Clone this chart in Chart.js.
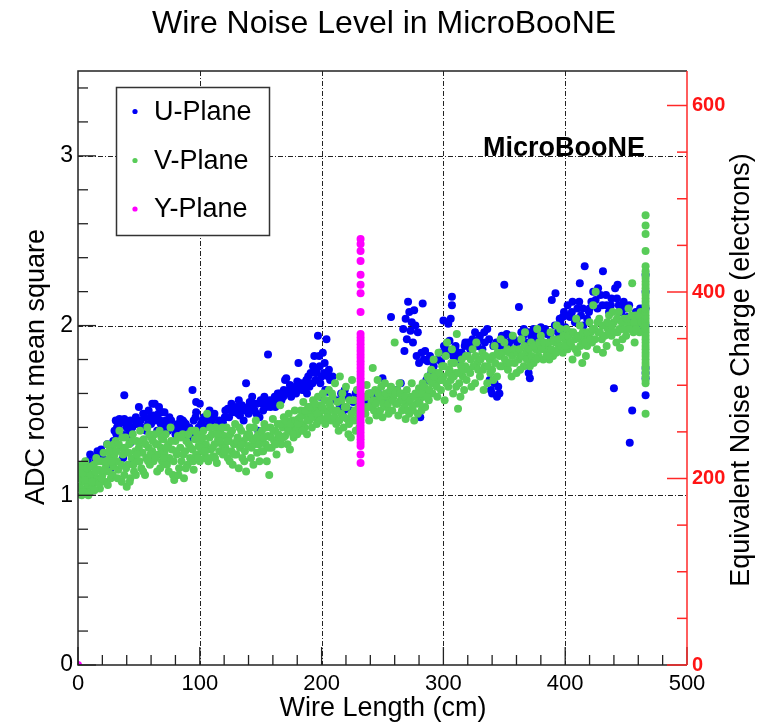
<!DOCTYPE html>
<html><head><meta charset="utf-8">
<script src="https://cdn.jsdelivr.net/npm/chart.js@4.4.1/dist/chart.umd.min.js"></script>
<style>html,body{margin:0;padding:0;background:#fff}#wrap{width:769px;height:725px;position:relative}</style>
</head><body><div id="wrap"><canvas id="c" width="769" height="725"></canvas></div>
<script>
// ---------- DATA ----------
const chartTitle = "Wire Noise Level in MicroBooNE";
const xTitle = "Wire Length (cm)";
const yTitle = "ADC root mean square";
const y2Title = "Equivalent Noise Charge (electrons)";
const seriesNames = ["U-Plane", "V-Plane", "Y-Plane"];
const xTicks = [0, 100, 200, 300, 400, 500];
const yTicks = [0, 1, 2, 3];
const y2Ticks = [0, 200, 400, 600];

// U-Plane (blue): [wire length cm, ADC rms]
const uPlane = [
[2,1.1],[4,1.16],[6,1.13],[8,1.2],[10,1.24],[12,1.18],[14,1.22],[16,1.26],[18,1.22],[19,1.27],[20,1.24],[22,1.2],[24,1.3],[27,1.16],[27,1.18],[29,1.32],
[30,1.38],[31,1.44],[32,1.4],[33,1.42],[34,1.45],[36,1.36],[37,1.22],[38,1.59],[38,1.45],[40,1.4],[42,1.38],[43,1.44],[43,1.31],[46,1.2],[48,1.42],[50,1.52],
[52,1.4],[55,1.46],[56,1.38],[58,1.5],[60,1.42],[61,1.54],[62,1.47],[63,1.54],[64,1.44],[65,1.38],[66,1.48],[68,1.42],[69,1.49],[70,1.4],[71,1.49],[72,1.44],[74,1.38],[75,1.46],[78,1.4],[80,1.36],[82,1.42],[84,1.45],[85,1.41],[86,1.44],[87,1.43],[89,1.38],[90,1.35],[93,1.34],[94,1.62],[95,1.44],[97,1.55],[97,1.49],[99,1.4],
[100,1.54],[101,1.42],[102,1.44],[104,1.4],[106,1.46],[108,1.5],[110,1.44],[112,1.48],[114,1.4],[116,1.44],[118,1.42],[119,1.43],[121,1.5],[123,1.51],[124,1.46],[126,1.54],[128,1.49],[130,1.52],[132,1.56],[133,1.47],[135,1.5],[136,1.44],[138,1.66],[140,1.48],[141,1.55],[143,1.58],[145,1.5],[147,1.54],[148,1.38],[149,1.46],[150,1.56],[152,1.5],[153,1.58],[155,1.54],[156,1.83],[158,1.52],
[160,1.56],[162,1.52],[164,1.6],[166,1.58],[167,1.56],[169,1.62],[170,1.68],[171,1.69],[172,1.6],[174,1.65],[175,1.58],[177,1.62],[179,1.6],[180,1.67],[181,1.78],[182,1.63],[184,1.62],[186,1.66],[188,1.6],[189,1.7],[190,1.64],[191,1.72],[193,1.76],[194,1.82],[195,1.68],[196,1.74],[197,1.94],[198,1.82],[199,1.58],[199,1.66],[200,1.7],[201,1.84],[202,1.72],[203,1.62],[204,1.92],[205,1.61],[206,1.74],[207,1.68],[209,1.7],
[212,1.56],[215,1.52],[216,1.6],[218,1.5],[219,1.62],[222,1.58],[224,1.5],[226,1.55],[228,1.6],[236,1.56],[240,1.6],[243,1.58],[246,1.61],[250,1.69],[252,1.58],[254,1.6],[256,1.56],[257,2.05],[262,1.62],[265,1.66],[267,1.98],[268,1.85],[269,2.04],[270,1.92],[271,2.14],[272,2.08],[273,1.97],[274,2.02],[275,1.9],[276,2.09],[277,2.0],[278,1.82],[279,1.96],[280,1.78],[281,1.46],[282,1.84],[283,2.13],[284,1.8],[285,1.85],[286,1.68],[287,1.79],[289,1.82],[290,1.72],[292,1.76],[293,1.66],[295,1.8],[297,1.84],[298,1.79],
[300,2.03],[302,1.86],[304,2.01],[305,1.91],[306,2.04],[307,2.17],[307,2.12],[308,1.82],[310,1.88],[312,1.8],[315,1.84],[318,1.9],[322,1.86],[324,1.92],[326,1.96],[328,1.88],[330,1.94],[332,1.86],[334,1.9],[336,1.98],[338,1.68],[339,1.62],[340,1.6],[341,1.88],[342,1.66],[344,1.58],[345,1.64],[346,1.6],[347,1.88],[348,1.94],[350,2.24],[352,1.95],[354,1.9],
[356,1.86],[358,1.92],[362,2.11],[364,1.96],[366,1.98],[368,1.9],[370,1.72],[371,1.69],[372,1.94],[374,1.98],[376,1.92],[378,1.96],[380,1.99],[382,1.9],[385,1.95],[389,2.15],[392,2.19],[394,1.96],[396,2.02],[398,2.05],[400,1.99],
[399,2.08],[402,2.12],[404,2.05],[406,2.14],[408,2.02],[410,2.1],[412,2.25],[413,2.06],[415,2.0],[416,2.35],[418,2.04],[420,2.1],[423,2.2],[425,2.15],[427,2.22],[429,2.18],[431,2.32],[434,2.12],[436,2.08],[438,2.16],[440,1.63],[441,2.22],[443,2.24],[444,2.12],[446,2.08],[448,2.14],[450,2.1],[451,2.05],[453,1.31],[455,1.5],[456,2.02],[458,2.08],[460,2.0],[462,2.04],[464,2.1],
[466,1.59],[466,1.69],[466,1.72],[466,1.75],[466,2.0],[466,2.1],[466,2.2],[466,2.3],
[31.5,1.36],[33.5,1.4],[35.5,1.43],[39.5,1.42],[41.5,1.36],[44.5,1.4],[47.5,1.46],[51.5,1.44],[53.5,1.48],[57.5,1.42],[59.5,1.46],[63.5,1.46],[66.5,1.52],[67.5,1.44],[73.5,1.42],[76.5,1.44],[81.5,1.4],[83.5,1.38],[88.5,1.42],[91.5,1.4],[96.5,1.46],
[103.5,1.46],[107.5,1.42],[111.5,1.46],[115.5,1.42],[120.5,1.46],[125.5,1.5],[127.5,1.52],[131.5,1.48],[134.5,1.53],[137.5,1.5],[139.5,1.52],[142.5,1.5],[144.5,1.54],[146.5,1.48],[151.5,1.54],[154.5,1.52],[157.5,1.56],[159.5,1.54],[161.5,1.58],[163.5,1.56],[165.5,1.6],[168.5,1.58],[173.5,1.62],[176.5,1.6],[178.5,1.64],[183.5,1.66],[185.5,1.62],[187.5,1.68],[192.5,1.66],[195.5,1.72],[198.5,1.76],[202.5,1.78],[205.5,1.7],
[300.5,1.88],[303.5,1.84],[309.5,1.86],[313.5,1.84],[317.5,1.88],[320.5,1.9],[325.5,1.88],[329.5,1.92],[333.5,1.96],[337.5,1.92],[343.5,1.9],[349.5,1.92],[355.5,1.94],[360.5,1.9],[365.5,1.94],[369.5,1.96],[375.5,1.94],[379.5,1.92],[383.5,1.98],[387.5,1.94],[391.5,2.0],[395.5,2.04],[397.5,1.98],[401.5,2.06],[405.5,2.08],[409.5,2.04],[411.5,2.14],[414.5,2.1],[419.5,2.08],[421.5,2.14],[426.5,2.1],[430.5,2.12],[433.5,2.18],[437.5,2.12],[442.5,2.16],[447.5,2.1],[452.5,2.12],[457.5,2.06],[461.5,2.1]
];

// V-Plane (green)
const vPlane = [
[1,1.05],[2,1.12],[3,1.0],[4,1.08],[5,1.15],[6,1.03],[7,1.1],[8,1.06],[9,1.13],[10,1.02],[3,1.18],[6,1.2],[9,1.09],
[11,1.12],[12,1.05],[13,1.18],[14,1.08],[15,1.22],[16,1.1],[17,1.15],[18,1.04],[19,1.2],[20,1.12],
[21,1.25],[22,1.08],[23,1.18],[24,1.3],[25,1.14],[26,1.22],[27,1.1],[28,1.28],[29,1.17],[30,1.24],
[31,1.32],[32,1.2],[33,1.15],[34,1.38],[35,1.28],[36,1.08],[37,1.24],[38,1.12],[39,1.34],[40,1.05],[41,1.18],[42,1.3],[43,1.1],[44,1.22],[45,1.36],[46,1.14],[47,1.26],[48,1.32],[49,1.2],[50,1.28],
[51,1.38],[52,1.16],[53,1.25],[54,1.33],[55,1.12],[56,1.22],[57,1.4],[58,1.28],[59,1.18],[60,1.34],
[61,1.26],[62,1.2],[63,1.36],[64,1.3],[65,1.14],[66,1.24],[67,1.38],[68,1.28],[69,1.2],[70,1.33],[71,1.25],[72,1.36],[73,1.18],[74,1.3],[75,1.22],[76,1.4],[77,1.27],[78,1.12],[79,1.09],[80,1.32],
[81,1.24],[82,1.35],[83,1.16],[84,1.28],[85,1.2],[86,1.36],[87,1.1],[88,1.26],[89,1.32],[90,1.18],[91,1.3],[92,1.22],[93,1.38],[94,1.27],[95,1.15],[96,1.33],[97,1.24],[98,1.36],[99,1.29],[100,1.2],
[101,1.32],[102,1.26],[103,1.38],[104,1.22],[105,1.3],[106,1.48],[107,1.2],[108,1.34],[109,1.27],[110,1.36],[111,1.23],[112,1.3],[113,1.4],[114,1.19],[115,1.33],[116,1.26],[117,1.38],[118,1.3],[119,1.24],[120,1.35],
[121,1.28],[122,1.4],[123,1.22],[124,1.32],[125,1.36],[126,1.26],[127,1.18],[128,1.3],[129,1.42],[130,1.24],[131,1.34],[132,1.16],[133,1.28],[134,1.38],[135,1.22],[136,1.32],[137,1.26],[138,1.14],[139,1.36],[140,1.29],[141,1.4],[142,1.22],[143,1.33],[144,1.18],[145,1.3],[146,1.44],[147,1.25],[148,1.36],[149,1.2],[150,1.32],
[151,1.38],[152,1.26],[153,1.42],[154,1.3],[155,1.2],[156,1.35],[157,1.12],[158,1.4],[159,1.28],[160,1.45],[161,1.32],[162,1.38],[163,1.24],[164,1.42],[165,1.34],[166,1.53],[167,1.3],[168,1.4],[169,1.46],[170,1.35],[171,1.42],[172,1.3],[173,1.48],[174,1.27],[175,1.38],[176,1.44],[177,1.34],[178,1.5],[179,1.4],[180,1.36],
[181,1.45],[182,1.38],[183,1.5],[184,1.42],[185,1.55],[186,1.4],[187,1.47],[188,1.36],[189,1.52],[190,1.44],[191,1.48],[192,1.4],[193,1.56],[194,1.46],[195,1.5],[196,1.42],[197,1.58],[198,1.48],[199,1.53],[200,1.45],[201,1.6],[202,1.5],[203,1.42],[204,1.56],[205,1.48],[206,1.62],[207,1.52],[208,1.44],[209,1.58],[210,1.5],
[211,1.66],[212,1.42],[213,1.55],[214,1.38],[215,1.7],[216,1.48],[217,1.6],[218,1.4],[219,1.52],[220,1.64],[221,1.45],[222,1.36],[223,1.56],[224,1.34],[225,1.68],[226,1.44],[227,1.5],[228,1.38],[229,1.62],[230,1.46],[231,1.4],[232,1.55],
[235,1.58],[236,1.48],[237,1.65],[238,1.52],[239,1.44],[240,1.6],[241,1.55],[242,1.75],[243,1.5],[244,1.62],[245,1.47],[246,1.68],[247,1.56],[248,1.5],[249,1.64],[250,1.46],[251,1.58],[252,1.66],[253,1.52],[254,1.6],[255,1.48],[256,1.56],[257,1.64],[258,1.5],[259,1.58],[260,1.9],[261,1.54],[262,1.62],[263,1.47],[264,1.66],[265,1.56],[266,1.5],[267,1.6],
[268,1.52],[269,1.45],[270,1.62],[271,1.55],[272,1.48],[273,1.58],[274,1.66],[275,1.5],[276,1.44],[277,1.6],[278,1.54],[279,1.48],[280,1.63],[281,1.57],[282,1.5],[283,1.66],[284,1.58],[285,1.52],[286,1.62],[287,1.7],[288,1.56],[289,1.68],
[290,1.74],[291,1.6],[292,1.8],[293,1.66],[294,1.72],[295,1.58],[296,1.84],[297,1.68],[298,1.62],[299,1.76],[300,1.7],[301,1.56],[302,1.82],[303,1.9],[304,1.64],[305,1.74],[306,1.68],[307,1.86],[308,1.6],[309,1.78],[310,1.72],[311,1.95],[312,1.51],[313,1.66],[314,1.58],[315,1.8],[316,1.7],[317,1.62],[318,1.76],[319,1.68],[320,1.82],
[322,1.72],[324,1.86],[326,1.66],[328,1.78],[330,1.7],[332,1.84],[334,1.76],[336,1.66],[338,1.8],[340,1.74],[342,1.88],[344,1.7],[346,1.82],[348,1.76],[350,1.9],[352,1.78],[354,1.84],[356,1.7],[358,1.86],[360,1.72],[362,1.8],[364,1.92],[366,1.76],[368,1.84],[370,1.8],[372,1.9],[374,1.78],[376,1.86],[378,1.82],[380,1.94],[382,1.8],[384,1.88],[386,1.84],[388,1.96],[390,1.82],[392,1.9],[394,1.86],[396,1.98],[398,1.84],[400,1.92],
[323,1.64],[327,1.9],[333,1.62],[341,1.68],[347,1.92],[353,1.74],[357,1.94],[363,1.74],[367,1.96],[371,1.76],[377,1.98],[383,1.86],[387,1.8],[393,2.0],[397,1.88],
[402,1.86],[404,1.96],[406,1.8],[408,1.92],[410,1.84],[412,2.0],[414,1.78],[416,1.94],[418,1.88],[420,2.02],[422,1.9],[423,2.12],[424,1.98],[425,2.2],[426,1.86],[428,2.04],[430,1.92],[432,2.0],[434,1.88],[436,2.06],[438,1.94],[440,2.02],[442,1.9],[444,2.08],[445,1.87],[446,1.98],[448,2.04],[450,1.94],[452,2.1],[454,2.0],[455,2.25],[456,1.96],[458,2.06],[460,2.02],[462,2.08],[464,2.0],
[401,1.98],[405,1.88],[409,2.04],[413,1.92],[417,1.82],[421,1.96],[427,1.96],[431,1.84],[435,1.98],[439,2.08],[443,1.96],[447,1.92],[451,2.02],[457,1.9],[461,1.96],
[0.5,1.1],[1.5,1.16],[2.5,1.04],[3.5,1.13],[4.5,1.02],[5.5,1.09],[7.5,1.16],[8.5,1.0],[10.5,1.17],[11.5,1.08],[13.5,1.03],[14.5,1.14],[16.5,1.2],[17.5,1.07],[19.5,1.1],[21.5,1.15],[22.5,1.2],[24.5,1.06],[25.5,1.26],[27.5,1.2],[28.5,1.12],[29.5,1.3],
[31.5,1.26],[32.5,1.1],[33.5,1.3],[35.5,1.18],[36.5,1.34],[38.5,1.28],[39.5,1.16],[41.5,1.25],[42.5,1.08],[44.5,1.32],[45.5,1.18],[47.5,1.12],[48.5,1.24],[50.5,1.2],[52.5,1.32],[53.5,1.14],[55.5,1.3],[57.5,1.2],[58.5,1.36],[59.5,1.24],
[61.5,1.32],[63.5,1.22],[65.5,1.3],[67.5,1.16],[68.5,1.34],[70.5,1.22],[72.5,1.28],[74.5,1.14],[76.5,1.32],[78.5,1.2],[80.5,1.26],[82.5,1.12],[84.5,1.34],[86.5,1.24],[88.5,1.16],[90.5,1.36],[92.5,1.28],[94.5,1.2],[96.5,1.38],[98.5,1.22],
[100.5,1.28],[102.5,1.34],[104.5,1.26],[106.5,1.22],[108.5,1.4],[110.5,1.28],[112.5,1.22],[114.5,1.36],[116.5,1.32],[118.5,1.4],[120.5,1.26],[122.5,1.32],[124.5,1.2],[126.5,1.38],[128.5,1.24],[130.5,1.32],[132.5,1.4],[134.5,1.3],[136.5,1.2],[138.5,1.34],[140.5,1.36],[142.5,1.28],[144.5,1.4],[146.5,1.34],[148.5,1.3],
[150.5,1.26],[152.5,1.34],[154.5,1.4],[156.5,1.28],[158.5,1.34],[160.5,1.38],[162.5,1.3],[164.5,1.36],[166.5,1.42],[168.5,1.34],[170.5,1.44],[172.5,1.38],[174.5,1.42],[176.5,1.36],[178.5,1.44],[180.5,1.42],[182.5,1.46],[184.5,1.38],[186.5,1.5],[188.5,1.44],[190.5,1.52],[192.5,1.46],[194.5,1.54],[196.5,1.48],[198.5,1.44],
[200.5,1.52],[202.5,1.56],[204.5,1.46],[206.5,1.54],[208.5,1.6],[210.5,1.46],[212.5,1.5],[214.5,1.44],[216.5,1.56],[218.5,1.46],[220.5,1.52],[222.5,1.42],[224.5,1.48],[226.5,1.56],[228.5,1.44],[230.5,1.52],[234.5,1.52],[236.5,1.58],[238.5,1.6],[240.5,1.52],[242.5,1.56],[244.5,1.54],[246.5,1.6],[248.5,1.58],[250.5,1.54],[252.5,1.6],[254.5,1.54],[256.5,1.62],[258.5,1.56],[260.5,1.6],[262.5,1.54],[264.5,1.6],[266.5,1.56],[268.5,1.58],[270.5,1.5],[272.5,1.56],[274.5,1.52],[276.5,1.58],[278.5,1.6],[280.5,1.54],[282.5,1.6],[284.5,1.64],[286.5,1.58],[288.5,1.62],[290.5,1.66],[292.5,1.7],[294.5,1.64],[296.5,1.72],[298.5,1.68],
[300.5,1.76],[302.5,1.66],[304.5,1.72],[306.5,1.78],[308.5,1.7],[310.5,1.64],[312.5,1.72],[314.5,1.76],[316.5,1.74],[318.5,1.82],[320.5,1.74],[322.5,1.8],[324.5,1.76],[326.5,1.82],[328.5,1.74],[330.5,1.8],[332.5,1.74],[334.5,1.82],[336.5,1.76],[338.5,1.72],[340.5,1.82],[342.5,1.78],[344.5,1.84],[346.5,1.76],[348.5,1.84],[350.5,1.8],[352.5,1.86],[354.5,1.78],[356.5,1.82],[358.5,1.78],[360.5,1.84],[362.5,1.86],[364.5,1.82],[366.5,1.88],[368.5,1.8],[370.5,1.86],[372.5,1.82],[374.5,1.88],[376.5,1.8],[378.5,1.9],[380.5,1.86],[382.5,1.9],[384.5,1.82],[386.5,1.9],[388.5,1.86],[390.5,1.92],[392.5,1.84],[394.5,1.92],[396.5,1.88],[398.5,1.94],
[400.5,1.88],[402.5,1.94],[404.5,1.9],[406.5,1.96],[408.5,1.86],[410.5,1.94],[412.5,1.88],[414.5,1.96],[416.5,1.9],[418.5,1.96],[420.5,1.92],[422.5,1.98],[424.5,1.92],[426.5,2.02],[428.5,1.96],[430.5,2.0],[432.5,1.94],[434.5,2.02],[436.5,1.96],[438.5,2.0],[440.5,1.96],[442.5,2.04],[444.5,1.98],[446.5,2.02],[448.5,1.98],[450.5,2.04],[452.5,1.98],[454.5,2.06],[456.5,2.02],[458.5,1.98],[460.5,2.06],[462.5,2.02],[464.5,2.06],
[466,1.48],[466,1.66],[466,1.68],[466,1.70],[466,1.72],[466,1.74],[466,1.76],[466,1.78],[466,1.80],[466,1.82],[466,1.84],[466,1.86],[466,1.88],[466,1.90],[466,1.92],[466,1.94],[466,1.96],[466,1.98],[466,2.00],[466,2.02],[466,2.04],[466,2.06],[466,2.08],[466,2.10],[466,2.12],[466,2.14],[466,2.16],[466,2.18],[466,2.20],[466,2.22],[466,2.24],[466,2.26],[466,2.28],[466,2.30],[466,2.32],[466,2.35],[466,2.44],[466,2.54],[466,2.59],[466,2.65]
];

// Y-Plane (magenta)
const yPlane = [
[0,0],
[232,2.51],[232,2.48],[232,2.44],[232,2.38],[232,2.30],[232,2.24],[232,2.19],[232,2.08],
[232,1.95],[232,1.93],[232,1.91],[232,1.89],[232,1.87],[232,1.85],[232,1.83],[232,1.81],[232,1.79],[232,1.77],[232,1.75],[232,1.73],[232,1.71],[232,1.69],[232,1.67],[232,1.65],[232,1.63],[232,1.61],[232,1.59],[232,1.57],[232,1.55],[232,1.53],[232,1.51],[232,1.49],[232,1.47],[232,1.45],[232,1.43],[232,1.41],[232,1.39],[232,1.37],[232,1.35],[232,1.33],[232,1.31],[232,1.29],
[232,1.24],[232,1.19]
];

// ---------- STYLE ----------
const FONT = "'Liberation Sans', Arial, Helvetica, sans-serif";
const colU = "rgb(0,0,245)";
const colV = "rgb(88,204,88)";
const colY = "rgb(255,0,255)";
const colors = [colU, colV, colY];

const toXY = arr => arr.map(p => ({x: p[0], y: p[1]}));

const decor = {
  id: 'decor',
  beforeDatasetsDraw(chart) {
    const ctx = chart.ctx, a = chart.chartArea;
    const sx = chart.scales.x, sy = chart.scales.y;
    ctx.save();
    ctx.strokeStyle = '#222';
    ctx.lineWidth = 1;
    ctx.setLineDash([5, 2, 1, 2]);
    xTicks.forEach(v => {
      if (v <= 0 || v >= 500) return;
      const px = Math.round(sx.getPixelForValue(v)) + 0.5;
      ctx.beginPath(); ctx.moveTo(px, a.top); ctx.lineTo(px, a.bottom); ctx.stroke();
    });
    yTicks.forEach(v => {
      if (v <= 0) return;
      const py = Math.round(sy.getPixelForValue(v)) + 0.5;
      ctx.beginPath(); ctx.moveTo(a.left, py); ctx.lineTo(a.right, py); ctx.stroke();
    });
    ctx.restore();
  },
  afterDatasetsDraw(chart) {
    const ctx = chart.ctx, a = chart.chartArea;
    const sx = chart.scales.x, sy = chart.scales.y, sy2 = chart.scales.y2;
    ctx.save();
    ctx.setLineDash([]);
    ctx.strokeStyle = '#222'; ctx.lineWidth = 1.5;
    ctx.beginPath();
    ctx.moveTo(a.right, a.top); ctx.lineTo(a.left, a.top); ctx.lineTo(a.left, a.bottom); ctx.lineTo(a.right, a.bottom);
    ctx.stroke();
    ctx.lineWidth = 1.3;
    for (let v = 0; v <= 500; v += 20) {
      const px = sx.getPixelForValue(v);
      const len = (v % 100 === 0) ? 18 : 10;
      ctx.beginPath(); ctx.moveTo(px, a.bottom); ctx.lineTo(px, a.bottom - len); ctx.stroke();
    }
    for (let i = 0; i <= 17; i++) {
      const v = i * 0.2;
      const py = sy.getPixelForValue(v);
      const len = (i % 5 === 0) ? 18 : 10;
      ctx.beginPath(); ctx.moveTo(a.left, py); ctx.lineTo(a.left + len, py); ctx.stroke();
    }
    ctx.strokeStyle = 'rgb(255,40,40)'; ctx.lineWidth = 1.5;
    ctx.beginPath(); ctx.moveTo(a.right, a.top); ctx.lineTo(a.right, a.bottom); ctx.stroke();
    for (let v = 0; v <= 600; v += 50) {
      const py = sy2.getPixelForValue(v);
      const len = (v % 200 === 0) ? 20 : 10;
      ctx.beginPath(); ctx.moveTo(a.right, py); ctx.lineTo(a.right - len, py); ctx.stroke();
    }
    // legend box
    const lx = 116.5, ly = 87.5, lw = 153, lh = 148;
    ctx.fillStyle = '#fff';
    ctx.fillRect(lx, ly, lw, lh);
    ctx.strokeStyle = '#333'; ctx.lineWidth = 1.5;
    ctx.strokeRect(lx, ly, lw, lh);
    const rows = [111.5, 160.5, 209];
    ctx.font = `27px ${FONT}`;
    ctx.textBaseline = 'middle'; ctx.textAlign = 'left';
    seriesNames.forEach((n, i) => {
      ctx.fillStyle = colors[i];
      ctx.beginPath(); ctx.arc(135, rows[i], 2.6, 0, Math.PI * 2); ctx.fill();
      ctx.fillStyle = '#000';
      ctx.fillText(n, 154, rows[i] + 1);
    });
    ctx.font = `bold 27px ${FONT}`;
    ctx.textAlign = 'right'; ctx.textBaseline = 'alphabetic';
    ctx.fillStyle = '#000';
    ctx.fillText('MicroBooNE', 645, 156);
    ctx.font = `32px ${FONT}`;
    ctx.textAlign = 'center';
    ctx.fillText(chartTitle, 384, 33);
    ctx.font = `27px ${FONT}`;
    ctx.textBaseline = 'middle';
    ctx.fillText(xTitle, 383, 709);
    ctx.save();
    ctx.translate(37, 367); ctx.rotate(-Math.PI / 2);
    ctx.fillText(yTitle, 0, 0);
    ctx.restore();
    ctx.save();
    ctx.translate(742, 370); ctx.rotate(-Math.PI / 2);
    ctx.fillText(y2Title, 0, 0);
    ctx.restore();
    ctx.restore();
  }
};

const ptCommon = { showLine: false, pointRadius: 4, pointHoverRadius: 4, pointBorderWidth: 0, borderWidth: 0, yAxisID: 'y' };

new Chart(document.getElementById('c'), {
  type: 'scatter',
  data: {
    datasets: [
      Object.assign({ label: seriesNames[0], data: toXY(uPlane), backgroundColor: colU, borderColor: colU, order: 3 }, ptCommon),
      Object.assign({ label: seriesNames[1], data: toXY(vPlane), backgroundColor: colV, borderColor: colV, order: 2 }, ptCommon),
      Object.assign({ label: seriesNames[2], data: toXY(yPlane), backgroundColor: colY, borderColor: colY, order: 1 }, ptCommon)
    ]
  },
  options: {
    responsive: false,
    animation: false,
    devicePixelRatio: 1,
    layout: { padding: { top: 71, left: 0, right: 0, bottom: 0 } },
    plugins: { legend: { display: false }, title: { display: false }, tooltip: { enabled: false } },
    scales: {
      x: {
        type: 'linear', min: 0, max: 500,
        afterBuildTicks: s => { s.ticks = xTicks.map(v => ({ value: v })); },
        afterFit: s => { s.height = 60; },
        grid: { display: false, drawTicks: false }, border: { display: false },
        ticks: { color: '#000', font: { family: FONT, size: 22 }, padding: 6, maxRotation: 0, autoSkip: false }
      },
      y: {
        type: 'linear', position: 'left', min: 0, max: 3.5,
        afterBuildTicks: s => { s.ticks = yTicks.map(v => ({ value: v })); },
        afterFit: s => { s.width = 78; },
        grid: { display: false, drawTicks: false }, border: { display: false },
        ticks: { color: '#000', font: { family: FONT, size: 23 }, padding: 5, autoSkip: false, callback: v => String(v) }
      },
      y2: {
        type: 'linear', position: 'right', min: 0, max: 637,
        afterBuildTicks: s => { s.ticks = y2Ticks.map(v => ({ value: v })); },
        afterFit: s => { s.width = 82; },
        grid: { display: false, drawTicks: false }, border: { display: false },
        ticks: { color: 'rgb(255,20,20)', font: { family: FONT, size: 20, weight: 'bold' }, padding: 5, autoSkip: false, callback: v => String(v) }
      }
    }
  },
  plugins: [decor]
});
</script>
</body></html>
